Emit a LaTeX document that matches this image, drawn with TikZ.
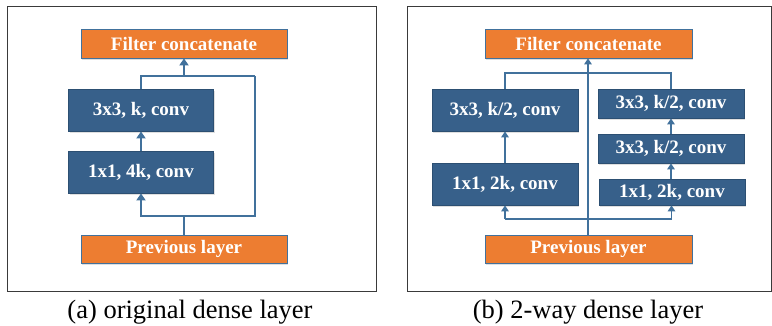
\documentclass[tikz,border=0pt]{standalone}
\usepackage{fontspec}
\setmainfont{Liberation Serif}
\usetikzlibrary{arrows.meta,shadows}
\definecolor{orangebox}{HTML}{ED7D31}
\definecolor{bluebox}{HTML}{37608A}
\definecolor{blueborder}{HTML}{2C4F72}
\definecolor{linecol}{HTML}{41719C}
\definecolor{framecol}{HTML}{3A3A3A}
\tikzset{
  box/.style={draw=blueborder, line width=0.8pt, fill=bluebox, text=white,
    font=\fontsize{19}{21}\selectfont\bfseries, inner sep=0pt,
    drop shadow={opacity=0.25, shadow xshift=1.2pt, shadow yshift=-1.5pt}},
  obox/.style={box, draw=linecol, fill=orangebox},
  linea/.style={draw=linecol, line width=2.6pt},
  lineb/.style={draw=linecol, line width=1.6pt},
  tipa/.style={-{Triangle[width=9pt,length=7pt]}},
  tipb/.style={-{Triangle[width=7.5pt,length=6pt]}},
  panelframe/.style={draw=framecol, line width=1pt},
  captext/.style={font=\fontsize{26.5}{28}\selectfont, inner sep=0pt}
}
\begin{document}
\begin{tikzpicture}[x=1pt,y=-1pt]
\useasboundingbox (0,0) rectangle (772,325);
% frames
\draw[panelframe] (7,6) rectangle (376,291);
\draw[panelframe] (407,6) rectangle (771,291);

% ---------- (a) ----------
\node[obox, minimum width=206pt, minimum height=29pt] (fa) at (184,43.5) {Filter concatenate};
\node[box, minimum width=145pt, minimum height=42pt] (c3a) at (141,110) {3x3, k, conv};
\node[box, minimum width=145pt, minimum height=42pt] (c1a) at (141,172) {1x1, 4k, conv};
\node[obox, minimum width=206pt, minimum height=28pt] (pa) at (184,249) {Previous layer};
\coordinate (ja) at (184,216);
\coordinate (rb) at (255,216);
\coordinate (rt) at (255,76);
\coordinate (ta) at (184,76);
\draw[linea, tipa] (pa.north) -- (ja) -| (c1a.south);
\draw[linea, tipa] (c1a.north) -- (c3a.south);
\draw[linea] (ja) -- (rb) -- (rt);
\draw[linea] (c3a.north) |- (rt);
\draw[linea, tipa] (ta) -- (fa.south);
\node[captext] (capa) at (190,312) {(a) original dense layer};

% ---------- (b) ----------
\node[obox, minimum width=207pt, minimum height=29pt] (fb) at (588.5,43.5) {Filter concatenate};
\node[box, minimum width=146pt, minimum height=42pt] (c3l) at (505,110) {3x3, k/2, conv};
\node[box, minimum width=146pt, minimum height=42pt] (c1l) at (505,184) {1x1, 2k, conv};
\node[box, minimum width=146pt, minimum height=29pt] (c3r1) at (671,103.5) {3x3, k/2, conv};
\node[box, minimum width=146pt, minimum height=29pt] (c3r2) at (671,148.5) {3x3, k/2, conv};
\node[box, minimum width=146pt, minimum height=26pt] (c1r) at (672,192) {1x1, 2k, conv};
\node[obox, minimum width=207pt, minimum height=28pt] (pb) at (588.5,249) {Previous layer};
\coordinate (bl) at (505,219);
\coordinate (br) at (671.5,219);
\coordinate (tl) at (505,73);
\draw[lineb, tipb] (pb.north -| 588,0) -- (fb.south -| 588,0);
\draw[lineb] (c3l.north) -- (tl) -| (c3r1.north -| 671,0);
\draw[lineb] (bl) -- (br);
\draw[lineb, tipb] (bl) -- (c1l.south);
\draw[lineb, tipb] (c1l.north) -- (c3l.south);
\draw[lineb, tipb] (br) -- (c1r.south -| br);
\draw[lineb, tipb] (c1r.north -| 671,0) -- (c3r2.south);
\draw[lineb, tipb] (c3r2.north) -- (c3r1.south);
\node[captext] (capb) at (588,312) {(b) 2-way dense layer};
\end{tikzpicture}
\end{document}
